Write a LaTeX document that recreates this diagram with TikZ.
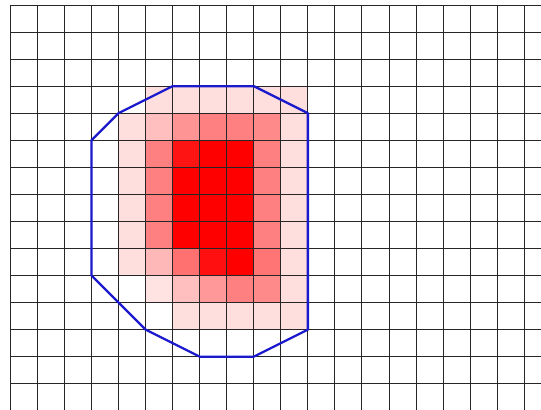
\documentclass[tikz,border=0pt]{standalone}
\begin{document}
\begin{tikzpicture}[x=0.5cm,y=0.5cm,
  gridline/.style={draw=black!85,line width=0.5pt},
  hull/.style={draw={rgb,255:red,26;green,26;blue,204},line width=1.2pt,line join=round}]
\useasboundingbox (-0.381,0.185) rectangle (19.619,-14.972);
\clip (-0.381,0.185) rectangle (19.619,-14.972);
\fill[white] (-0.381,0.185) rectangle (19.619,-14.972);
% shaded cells: column/row/intensity
\foreach \i/\j/\v in {
  5/3/13,6/3/13,7/3/13,8/3/13,9/3/13,10/3/13,
  4/4/13,5/4/25,6/4/42,7/4/50,8/4/50,9/4/46,10/4/13,
  4/5/13,5/5/50,6/5/92,7/5/100,8/5/100,9/5/50,10/5/13,
  4/6/13,5/6/50,6/6/100,7/6/100,8/6/100,9/6/50,10/6/13,
  4/7/13,5/7/50,6/7/100,7/7/100,8/7/100,9/7/50,10/7/13,
  4/8/13,5/8/50,6/8/100,7/8/100,8/8/100,9/8/50,10/8/13,
  4/9/13,5/9/28,6/9/56,7/9/94,8/9/100,9/9/54,10/9/13,
  5/10/11,6/10/25,7/10/40,8/10/50,9/10/46,10/10/13,
  6/11/13,7/11/13,8/11/13,9/11/13,10/11/13}
  \fill[red!\v] (\i,-\j) rectangle ++(1,-1);
% grid
\foreach \i in {0,...,20} \draw[gridline] (\i,0) -- (\i,-15.5);
\foreach \j in {0,...,15} \draw[gridline] (0,-\j) -- (20.5,-\j);
% polygon
\draw[hull] (3,-5) -- (4,-4) -- (6,-3) -- (9,-3) -- (11,-4) -- (11,-12)
  -- (9,-13) -- (7,-13) -- (5,-12) -- (3,-10) -- cycle;
\end{tikzpicture}
\end{document}
